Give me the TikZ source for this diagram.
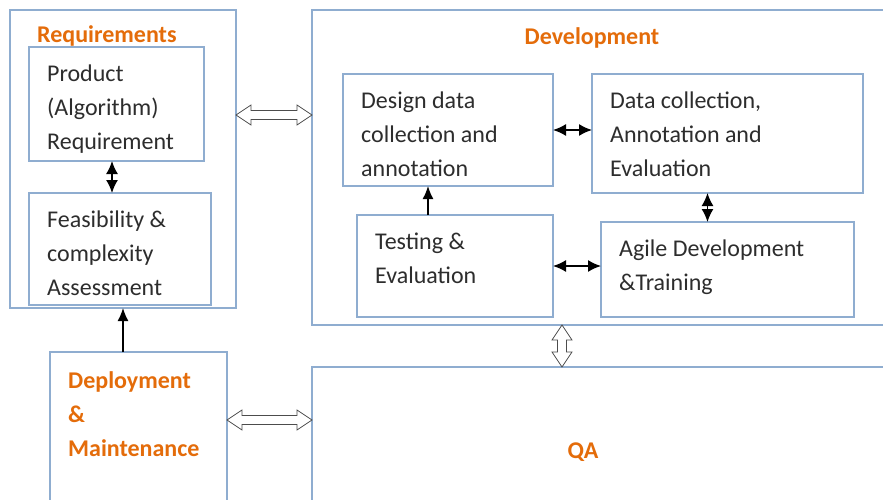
\documentclass[tikz,border=0pt]{standalone}
\usepackage{fontspec}
\setmainfont{Carlito}
\usetikzlibrary{arrows.meta,calc}
\definecolor{boxblue}{RGB}{143,173,208}
\definecolor{titleorange}{RGB}{228,108,10}
\definecolor{bodygray}{RGB}{45,45,45}

\begin{document}
\begin{tikzpicture}[
  x=1pt,y=-1pt,
  box/.style={draw=boxblue,line width=1.1pt,anchor=north west,inner sep=0pt,outer sep=0pt},
  boxtext/.style={anchor=north west,align=left,inner xsep=18pt,inner ysep=18pt,text=bodygray,
    font=\fontsize{24pt}{34pt}\selectfont},
  title/.style={text=titleorange,font=\fontsize{24pt}{34pt}\selectfont\bfseries},
  link/.style={line width=1.5pt,{Latex[length=13pt,width=12pt]}-{Latex[length=13pt,width=12pt]}},
  feed/.style={line width=1.5pt,-{Latex[length=13pt,width=11pt]}},
  hollow/.style={draw=black!70,fill=white,line width=0.8pt,to path={
    -- ($(\tikztostart)!18pt!33.7:(\tikztotarget)$)
    -- ($(\tikztostart)!15.7pt!16.7:(\tikztotarget)$)
    -- ($(\tikztotarget)!15.7pt!-16.7:(\tikztostart)$)
    -- ($(\tikztotarget)!18pt!-33.7:(\tikztostart)$)
    -- (\tikztotarget)
    -- ($(\tikztotarget)!18pt!33.7:(\tikztostart)$)
    -- ($(\tikztotarget)!15.7pt!16.7:(\tikztostart)$)
    -- ($(\tikztostart)!15.7pt!-16.7:(\tikztotarget)$)
    -- ($(\tikztostart)!18pt!-33.7:(\tikztotarget)$)
    -- cycle}}
]
  \clip (0,0) rectangle (883,500);
  \fill[white] (0,0) rectangle (883,500);

  \node[box,minimum width=226pt,minimum height=298pt,
    label={[boxtext,title,inner xsep=27pt,inner ysep=15pt]north west:Requirements}] (req) at (10,10) {};
  \node[box,minimum width=175pt,minimum height=114pt,
    label={[boxtext]north west:Product\\(Algorithm)\\Requirement}] (prod) at (29,47) {};
  \node[box,minimum width=182pt,minimum height=112pt,
    label={[boxtext]north west:Feasibility \&\\complexity\\Assessment}] (feas) at (29,193) {};

  \node[box,minimum width=600pt,minimum height=315pt] (dev) at (312,10) {};
  \node[title] (devtitle) at (592,38) {Development};
  \node[box,minimum width=210pt,minimum height=112pt,
    label={[boxtext]north west:Design data\\collection and\\annotation}] (design) at (343,74) {};
  \node[box,minimum width=271pt,minimum height=119pt,
    label={[boxtext]north west:Data collection,\\Annotation and\\Evaluation}] (collect) at (592,74) {};
  \node[box,minimum width=196pt,minimum height=102pt,
    label={[boxtext]north west:Testing \&\\Evaluation}] (test) at (357,215) {};
  \node[box,minimum width=253pt,minimum height=95pt,
    label={[boxtext]north west:Agile Development\\\&Training}] (agile) at (601,222) {};

  \node[box,minimum width=177pt,minimum height=200pt,
    label={[boxtext,title,inner ysep=19pt]north west:Deployment\\\&\\Maintenance}] (deploy) at (50,352) {};
  \node[box,minimum width=600pt,minimum height=200pt] (qa) at (312,367) {};
  \node[title] (qatitle) at (583,452) {QA};

  \draw[link] ([xshift=-4.5pt]prod.south) -- ([xshift=-4.5pt]prod.south |- feas.north);
  \draw[link] (design.east) -- (design.east -| collect.west);
  \draw[feed] ([xshift=-20pt]design.south |- test.north) -- ([xshift=-20pt]design.south);
  \draw[link] ([xshift=-20pt]collect.south) -- ([xshift=-20pt]collect.south |- agile.north);
  \draw[link] (test.east) -- (test.east -| agile.west);
  \draw[feed] (req.south |- deploy.north) -- (req.south);

  \draw[hollow] ([yshift=-105pt]req.north east) to ([yshift=-105pt]req.north east -| dev.west);
  \draw[hollow] ([xshift=250pt]dev.south west) to ([xshift=250pt]qa.north west);
  \draw[hollow] ([yshift=-68pt]deploy.north east) to ([yshift=-68pt]deploy.north east -| qa.west);
\end{tikzpicture}
\end{document}
